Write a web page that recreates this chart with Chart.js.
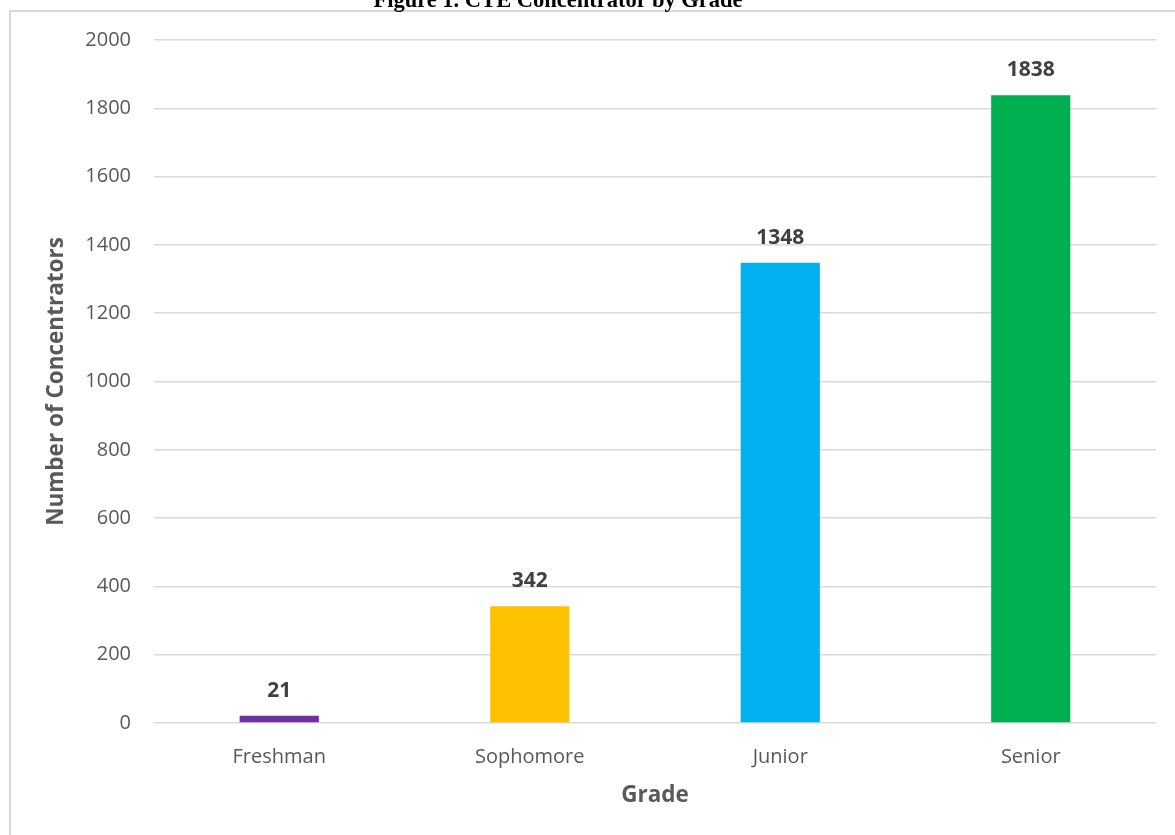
<!DOCTYPE html>
<html>
<head>
<meta charset="utf-8">
<script src="https://cdn.jsdelivr.net/npm/chart.js@4.4.1/dist/chart.umd.min.js"></script>
<style>
  html, body { margin: 0; padding: 0; background: #fff; overflow: hidden; }
  #wrap { position: relative; width: 1175px; height: 835px; }
  #frame { position: absolute; left: 9px; top: 10px; width: 1300px; height: 1000px;
           border-top: 2px solid #d9d9d9; border-left: 2px solid #d9d9d9; box-sizing: border-box; }
  #title { position: absolute; left: 258px; width: 600px; top: -11px; text-align: center;
           font: bold 22.5px/22px "Liberation Serif", "Times New Roman", serif; color: #000; white-space: nowrap; }
  canvas { position: absolute; left: 0; top: 0; }
</style>
</head>
<body>
<div id="wrap">
  <div id="frame"></div>
  <canvas id="c" width="1175" height="835"></canvas>
  <div id="title">Figure 1. CTE Concentrator by Grade</div>
</div>
<script>
const grades = ["Freshman", "Sophomore", "Junior", "Senior"];
const concentrators = [21, 342, 1348, 1838];
const barColors = ["#7030A0", "#FFC000", "#00B0F0", "#00B050"];
const yTitle = "Number of Concentrators";
const xTitle = "Grade";

const valueLabels = {
  id: "valueLabels",
  afterDatasetsDraw(chart) {
    const ctx = chart.ctx;
    const meta = chart.getDatasetMeta(0);
    ctx.save();
    ctx.font = "bold 21px 'Open Sans'";
    ctx.fillStyle = "#404040";
    ctx.textAlign = "center";
    ctx.textBaseline = "middle";
    meta.data.forEach((bar, i) => {
      ctx.fillText(String(chart.data.datasets[0].data[i]), bar.x, bar.y - 25);
    });
    ctx.restore();
  }
};

new Chart(document.getElementById("c"), {
  type: "bar",
  data: {
    labels: grades,
    datasets: [{
      data: concentrators,
      backgroundColor: barColors,
      borderWidth: 0,
      categoryPercentage: 1,
      barPercentage: 0.316
    }]
  },
  options: {
    responsive: false,
    animation: false,
    devicePixelRatio: 1,
    layout: { padding: { top: 40, right: 19, bottom: 0, left: 0 } },
    plugins: { legend: { display: false }, tooltip: { enabled: false }, title: { display: false } },
    scales: {
      x: {
        grid: { display: false },
        border: { display: false },
        ticks: { color: "#595959", font: { family: "'Open Sans'", size: 20 }, padding: 14 },
        title: { display: true, text: xTitle, color: "#595959",
                 font: { family: "'Open Sans'", size: 22.5, weight: "bold" }, padding: { top: 0, bottom: 26 } },
        afterFit(scale) { scale.height = 112; }
      },
      y: {
        min: 0, max: 2000,
        grid: { color: "#d9d9d9", lineWidth: 1.5, drawTicks: false },
        border: { display: false },
        ticks: { stepSize: 200, color: "#595959", font: { family: "'Open Sans'", size: 20 }, padding: 23,
                 callback: (v) => String(v) },
        title: { display: true, text: yTitle, color: "#595959",
                 font: { family: "'Open Sans'", size: 22.5, weight: "bold" }, padding: { top: 43, bottom: 0 } },
        afterFit(scale) { scale.width = 154; }
      }
    }
  },
  plugins: [valueLabels]
});
</script>
</body>
</html>
